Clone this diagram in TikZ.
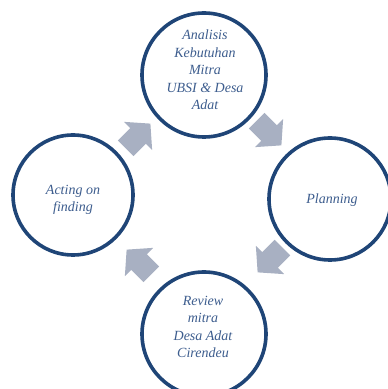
\documentclass[tikz,border=0pt]{standalone}
\usepackage{fontspec}
\setmainfont{Liberation Serif}
\definecolor{ringblue}{HTML}{1F4577}
\definecolor{textblue}{HTML}{3D5D8E}
\definecolor{arrowgray}{HTML}{A8B0C2}
\tikzset{
  ring/.style={circle, draw=ringblue, line width=3.6pt, fill=white, inner sep=0pt},
  ringtext/.style={text=textblue, align=center, font=\fontsize{14}{17.5}\selectfont\itshape},
  blockarrow/.style={fill=arrowgray}
}
\newcommand{\cyclearrow}[3]{%
  \fill[blockarrow, shift={(#1,#2)}, rotate=#3]
    (-17.5,-11) -- (0,-11) -- (0,-20) -- (17.5,0) -- (0,20) -- (0,11) -- (-17.5,11) -- cycle;}
\begin{document}
\begin{tikzpicture}[x=1pt,y=1pt]
\useasboundingbox (0,0) rectangle (388,389);
\cyclearrow{138}{253}{45}
\cyclearrow{269}{256}{-45}
\cyclearrow{270}{129}{-135}
\cyclearrow{139}{127}{135}
\node[ring, minimum size=124pt] (top) at (204,314) {};
\node[ring, minimum size=122pt] (right) at (330,190) {};
\node[ring, minimum size=124pt] (bottom) at (204,55) {};
\node[ring, minimum size=120pt] (left) at (73,194) {};
\node[ringtext] (toptext) at (205,319) {Analisis\\Kebutuhan\\Mitra\\UBSI \& Desa\\Adat};
\node[ringtext] (righttext) at (332,189) {Planning};
\node[ringtext] (bottomtext) at (203,62) {Review\\mitra\\Desa Adat\\Cirendeu};
\node[ringtext] (lefttext) at (73,189) {Acting on\\finding};
\end{tikzpicture}
\end{document}
